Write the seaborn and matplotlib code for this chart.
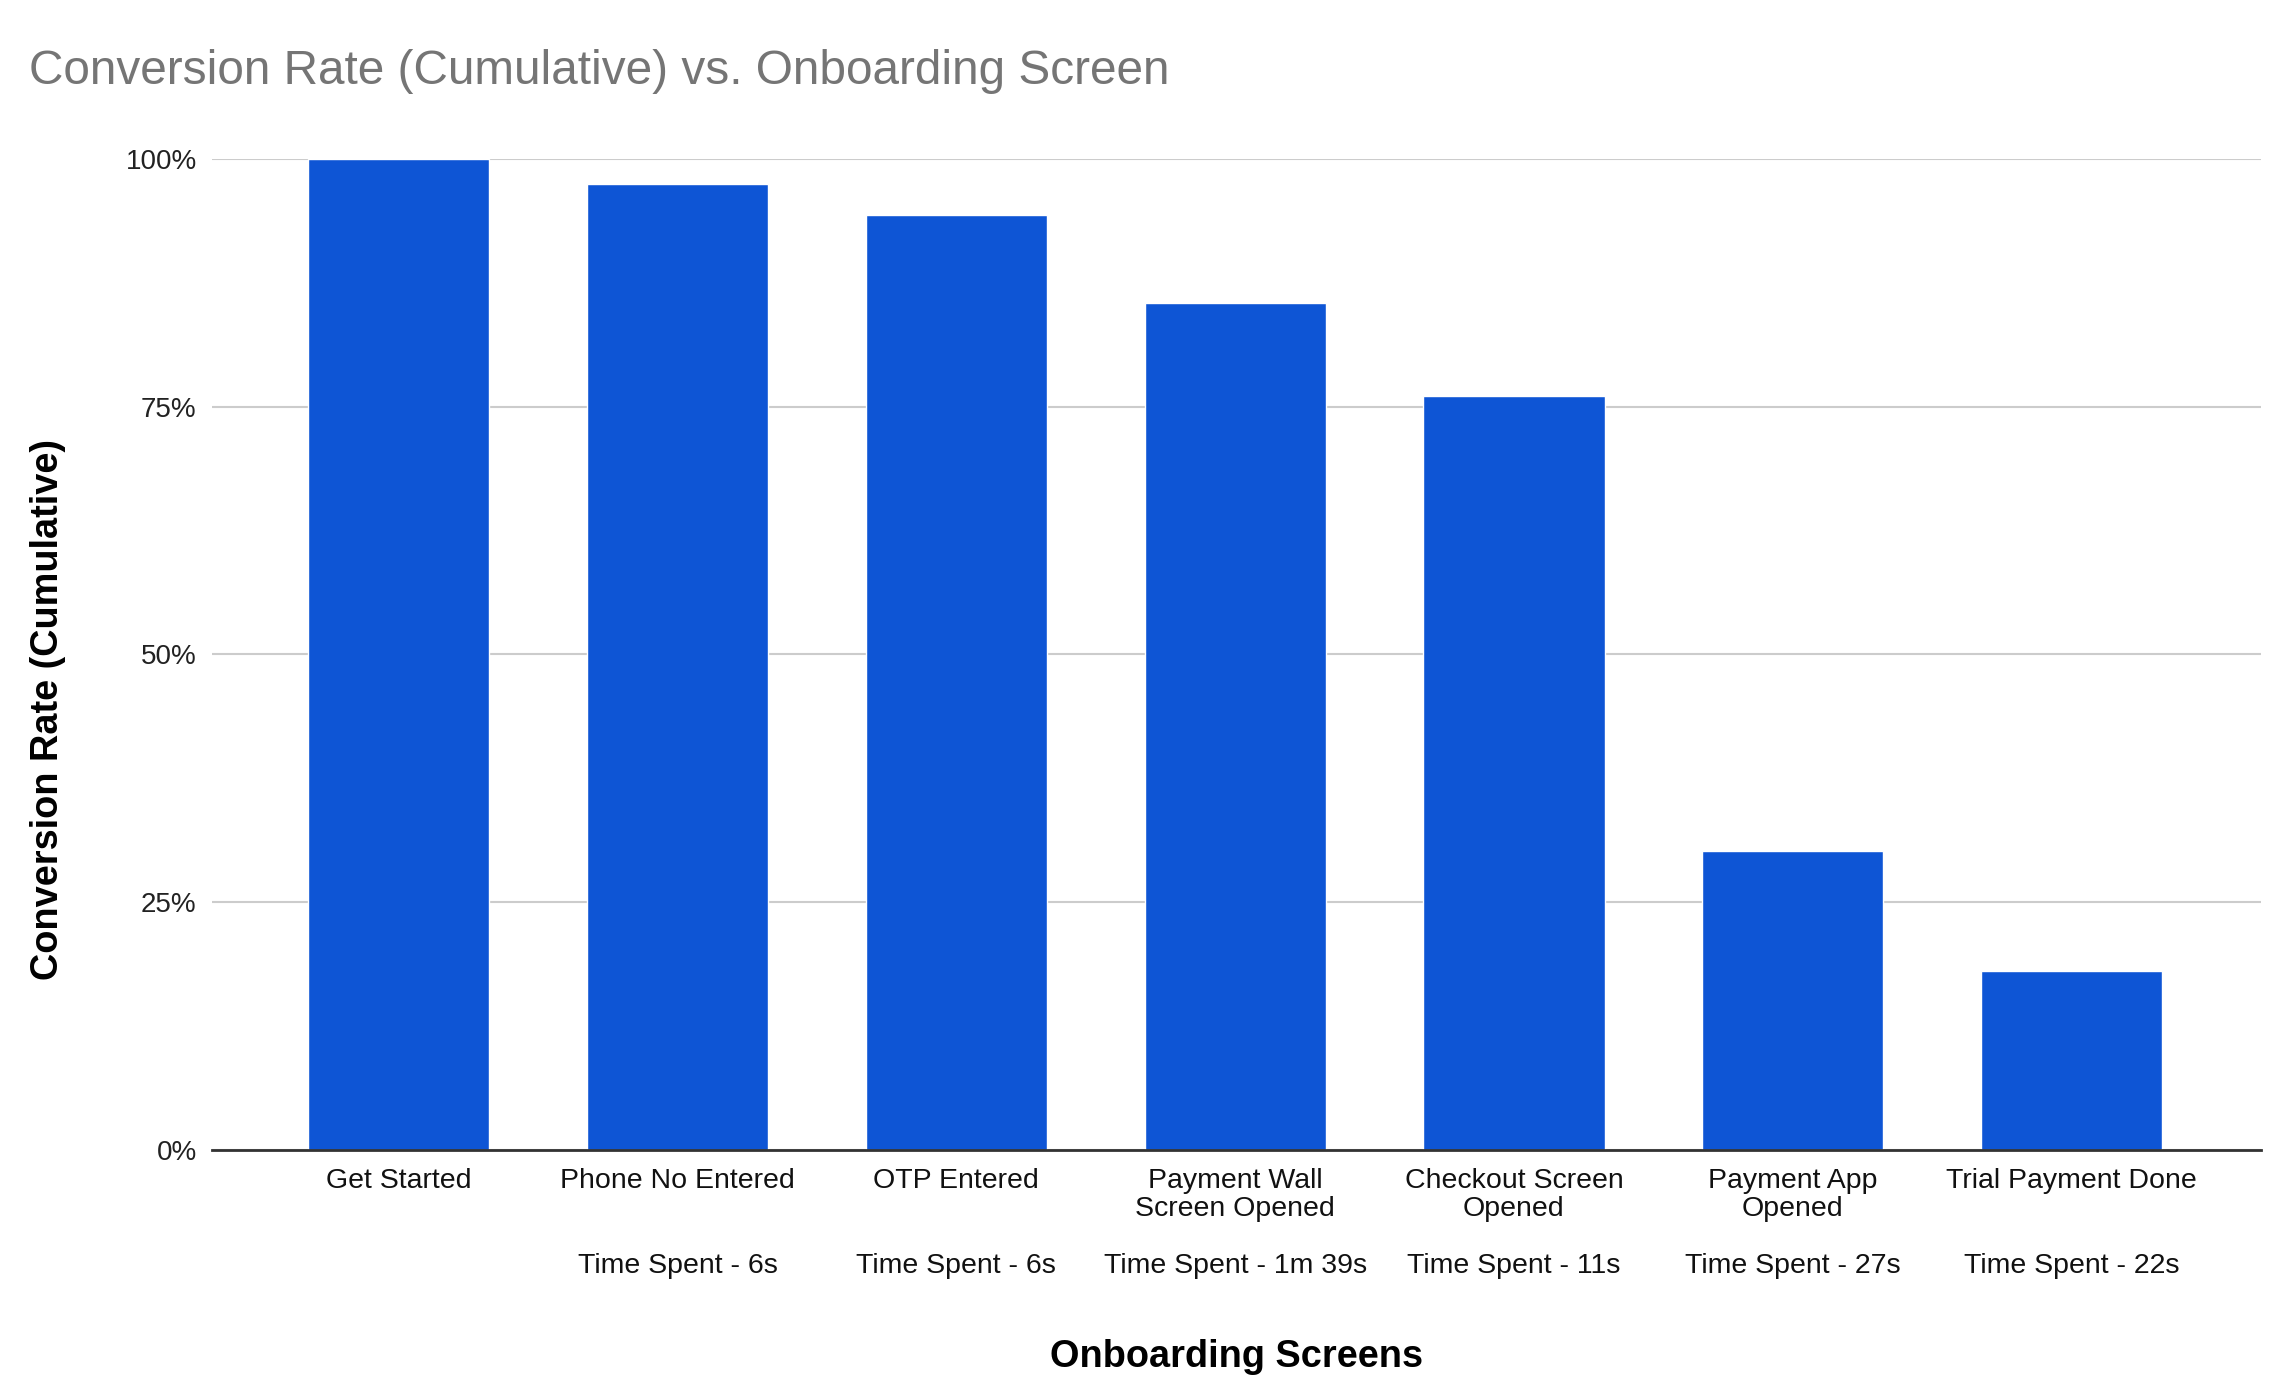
import numpy as np
import pandas as pd
import matplotlib.pyplot as plt
import seaborn as sns
from matplotlib.ticker import PercentFormatter

sns.set_theme(style="white")
plt.rcParams['font.family'] = ['Liberation Sans', 'DejaVu Sans']

screens = ['Get Started', 'Phone No Entered', 'OTP Entered',
           'Payment Wall\nScreen Opened', 'Checkout Screen\nOpened',
           'Payment App\nOpened', 'Trial Payment Done']
conversion = [1.000, 0.975, 0.943, 0.855, 0.761, 0.302, 0.181]
time_spent = ['', 'Time Spent - 6s', 'Time Spent - 6s', 'Time Spent - 1m 39s',
              'Time Spent - 11s', 'Time Spent - 27s', 'Time Spent - 22s']
y_ticks = [0, 0.25, 0.5, 0.75, 1.0]

df = pd.DataFrame({'screen': screens, 'conversion': conversion})

fig = plt.figure(figsize=(22.92, 13.87), dpi=100)
ax = fig.add_axes([0.0925, 0.1709, 0.8940, 0.7145])

sns.barplot(x='screen', y='conversion', data=df, color='#0e55d5',
            saturation=1, width=0.65, ax=ax, zorder=3)

ax.set_xlim(-0.67, 6.68)
ax.set_ylim(0, 1.0)
ax.set_yticks(y_ticks)
ax.yaxis.set_major_formatter(PercentFormatter(xmax=1, decimals=0))
ax.yaxis.grid(True, color='#cccccc', lw=1.5)
ax.set_axisbelow(True)

for s in ['top', 'right', 'left']:
    ax.spines[s].set_visible(False)
ax.spines['bottom'].set_color('#333333')
ax.spines['bottom'].set_linewidth(2)
ax.spines['bottom'].set_zorder(4)

ax.tick_params(axis='y', length=0, pad=11, labelsize=20, labelcolor='#222222')
ax.tick_params(axis='x', length=0, pad=13, labelsize=20.5, labelcolor='#111111')
for lbl in ax.get_xticklabels():
    lbl.set_linespacing(1.12)

# second line under each category: time spent on that screen
for i, t in enumerate(time_spent):
    ax.annotate(t, xy=(i, 0), xycoords=('data', 'axes fraction'),
                xytext=(0, -83.5), textcoords='offset points',
                ha='center', va='center', fontsize=20.5, color='#111111')

ax.set_xlabel('Onboarding Screens', fontsize=27.3, fontweight='bold', color='black')
ax.xaxis.set_label_coords(0.5, -0.2088)
ax.xaxis.label.set_verticalalignment('center')

ax.set_ylabel('Conversion Rate (Cumulative)', fontsize=27.3, fontweight='bold', color='black')
ax.yaxis.set_label_coords(-0.0798, 0.444)
ax.yaxis.label.set_verticalalignment('center')

fig.text(29 / 2292, 1 - 72 / 1387, 'Conversion Rate (Cumulative) vs. Onboarding Screen',
         fontsize=34.4, color='#757575', ha='left', va='center')

plt.savefig('out.png', dpi=100)
